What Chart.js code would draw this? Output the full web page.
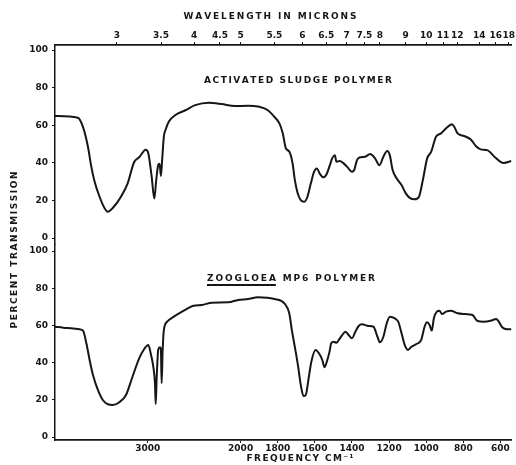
<!DOCTYPE html>
<html>
<head>
<meta charset="utf-8">
<script src="https://cdn.jsdelivr.net/npm/chart.js@4.4.1/dist/chart.umd.min.js"></script>
<style>
  html, body { margin: 0; padding: 0; background: #fff; }
  canvas { display: block; }
</style>
</head>
<body>
<canvas id="chart" width="516" height="465"></canvas>
<script>
// wavenumber (cm-1) and percent transmission
const sludgeFreq = [4000, 3754, 3698, 3645, 3609, 3573, 3520, 3467, 3431, 3378, 3289, 3218, 3147, 3093, 3022, 2994, 2958, 2930, 2909, 2887, 2873, 2859, 2845, 2827, 2809, 2773, 2702, 2596, 2489, 2347, 2205, 2062, 1960, 1907, 1853, 1818, 1791, 1773, 1756, 1738, 1720, 1708, 1693, 1676, 1658, 1640, 1622, 1604, 1590, 1572, 1555, 1537, 1519, 1507, 1492, 1484, 1466, 1448, 1427, 1400, 1388, 1373, 1356, 1329, 1302, 1276, 1252, 1231, 1210, 1196, 1181, 1160, 1133, 1110, 1089, 1062, 1039, 1018, 995, 973, 947, 920, 893, 861, 849, 831, 796, 760, 733, 707, 671, 636, 600, 582, 541];
const sludgeT = [65, 64, 59, 48.6, 38, 30, 22, 16, 14, 16, 22, 29, 40.5, 43, 47, 45, 32.5, 21, 31, 39, 39.5, 33, 42, 54, 57.5, 62, 65.5, 68, 70.7, 72, 71.3, 70.2, 70.4, 70, 68, 64.5, 61, 55.7, 47.7, 46, 39.7, 31, 24, 20.2, 19.3, 22, 29, 35.3, 37, 34, 32.3, 34, 38.8, 42.4, 44, 40.6, 41, 40, 38, 35.3, 36.2, 41.5, 43, 43.3, 44.7, 42.4, 38.8, 43.3, 46.3, 44, 36.2, 31.8, 28.2, 23.8, 21.4, 20.6, 22, 31, 42.4, 46, 54, 55.7, 58.4, 60.6, 59.2, 55.7, 54.3, 52.5, 49, 47.2, 46.8, 43.6, 40.6, 40, 41];

const zoogloeaFreq = [4000, 3911, 3805, 3733, 3698, 3662, 3627, 3591, 3538, 3485, 3431, 3378, 3307, 3235, 3165, 3093, 3040, 2994, 2969, 2941, 2923, 2915, 2904, 2887, 2869, 2859, 2851, 2840, 2827, 2791, 2720, 2631, 2507, 2418, 2311, 2133, 2027, 1960, 1907, 1818, 1764, 1738, 1724, 1708, 1690, 1676, 1661, 1649, 1635, 1619, 1596, 1578, 1560, 1548, 1533, 1521, 1512, 1498, 1484, 1471, 1453, 1436, 1418, 1400, 1382, 1364, 1347, 1311, 1284, 1263, 1249, 1231, 1213, 1196, 1169, 1151, 1133, 1116, 1098, 1080, 1053, 1027, 1009, 996, 982, 970, 959, 943, 929, 915, 893, 867, 831, 787, 751, 724, 689, 653, 623, 609, 591, 564, 541];
const zoogloeaT = [59.3, 58.8, 58.4, 57.9, 57.2, 50.4, 41.4, 33.3, 25.3, 19.9, 17.6, 17.2, 18.7, 22.6, 32.4, 42.3, 47.2, 49.5, 45, 37.8, 28.9, 17.7, 32.4, 47.2, 48.2, 46.8, 28.9, 46.8, 57.5, 62, 64.7, 67.4, 70.6, 71, 72.2, 72.4, 73.7, 74.2, 75.1, 74.2, 71.9, 66.5, 57.5, 48.5, 37.8, 28, 22, 22.6, 30.6, 40.5, 46.8, 45, 41.4, 37.5, 41.4, 45.9, 50.4, 51.2, 50.7, 52.2, 54.8, 56.6, 54.8, 53.1, 56.6, 59.7, 60.6, 59.7, 59.3, 53.9, 50.9, 53.9, 61.1, 64.7, 63.8, 62, 55.8, 49.5, 46.8, 48.5, 50, 52.2, 59.3, 61.7, 60.2, 57.2, 63.8, 67.4, 67.9, 66.1, 67.4, 67.9, 66.5, 66.1, 65.6, 62.4, 62, 62.5, 63.4, 62, 59, 57.9, 57.9];

const freqTicks = [3000, 2000, 1800, 1600, 1400, 1200, 1000, 800, 600];
const micronTicks = ['3', '3.5', '4', '4.5', '5', '5.5', '6', '6.5', '7', '7.5', '8', '9', '10', '11', '12', '14', '16', '18'];
const percentTicks = [0, 20, 40, 60, 80, 100];

const INK = '#161616';
const FONT = '"DejaVu Sans", sans-serif';
const F_HIGH = 4000, F_LOW = 541, F_BREAK = 2000;

// grating chart: above 2000 cm-1 the scale is compressed by half
function chartUnits(f) {
    return f >= F_BREAK ? (F_HIGH - f) / 2 : (F_HIGH - F_BREAK) / 2 + (F_BREAK - f);
}
const SPAN = chartUnits(F_LOW);

class IrScale extends Chart.LinearScale {
    static id = 'irFrequency';
    static defaults = {};
    getPixelForValue(v) {
        return this.getPixelForDecimal(chartUnits(v) / SPAN);
    }
    getValueForPixel(p) {
        const u = this.getDecimalForPixel(p) * SPAN;
        const half = (F_HIGH - F_BREAK) / 2;
        return u <= half ? F_HIGH - 2 * u : F_BREAK - (u - half);
    }
}
Chart.register(IrScale);

function points(xs, ys) {
    return xs.map((x, i) => ({ x: x, y: ys[i] }));
}

function drawSpaced(ctx, text, cx, cy, width) {
    const chars = [...text];
    const widths = chars.map(c => ctx.measureText(c).width);
    const total = widths.reduce((a, b) => a + b, 0);
    const gap = (width - total) / (chars.length - 1);
    let x = cx - width / 2;
    const starts = [];
    chars.forEach((c, i) => {
        starts.push(x);
        ctx.fillText(c, x, cy);
        x += widths[i] + gap;
    });
    return { starts, widths };
}

const labels = {
    id: 'labels',
    afterDraw(chart) {
        const ctx = chart.ctx;
        ctx.save();
        ctx.fillStyle = INK;
        ctx.strokeStyle = INK;
        ctx.font = 'bold 9px ' + FONT;
        ctx.textAlign = 'left';
        ctx.textBaseline = 'middle';

        drawSpaced(ctx, 'WAVELENGTH IN MICRONS', 270, 17, 173);
        drawSpaced(ctx, 'ACTIVATED SLUDGE POLYMER', 298, 81, 188);
        const z = drawSpaced(ctx, 'ZOOGLOEA MP6 POLYMER', 291, 279, 168);
        ctx.lineWidth = 2;
        ctx.beginPath();
        ctx.moveTo(z.starts[0], 285);
        ctx.lineTo(z.starts[7] + z.widths[7], 285);
        ctx.stroke();
        drawSpaced(ctx, 'FREQUENCY CM⁻¹', 300, 459, 107);

        ctx.translate(15, 250);
        ctx.rotate(-Math.PI / 2);
        drawSpaced(ctx, 'PERCENT TRANSMISSION', 0, 0, 157);
        ctx.restore();
    }
};

const tickFont = { family: FONT, size: 9, weight: 'bold' };

function yAxis(min, max, weight, order) {
    return {
        type: 'linear',
        position: 'left',
        stack: 'panels',
        stackWeight: weight,
        weight: order,
        min: min,
        max: max,
        afterBuildTicks: s => { s.ticks = percentTicks.map(v => ({ value: v })); },
        afterFit: s => { s.width = 55; },
        ticks: { color: INK, font: tickFont, padding: 4, autoSkip: false },
        grid: { drawOnChartArea: false, color: INK, tickLength: 3, lineWidth: 1 },
        border: { color: INK, width: 1.5 }
    };
}

new Chart(document.getElementById('chart'), {
    type: 'line',
    data: {
        datasets: [
            {
                label: 'Activated sludge polymer',
                data: points(sludgeFreq, sludgeT),
                yAxisID: 'yTop'
            },
            {
                label: 'Zoogloea MP6 polymer',
                data: points(zoogloeaFreq, zoogloeaT),
                yAxisID: 'yBottom'
            }
        ]
    },
    options: {
        responsive: false,
        animation: false,
        layout: { padding: 0 },
        elements: {
            point: { radius: 0 },
            line: { borderColor: INK, borderWidth: 2, cubicInterpolationMode: 'monotone' }
        },
        plugins: { legend: { display: false }, tooltip: { enabled: false } },
        scales: {
            x: {
                type: 'irFrequency',
                position: 'bottom',
                min: F_LOW,
                max: F_HIGH,
                afterBuildTicks: s => { s.ticks = freqTicks.map(v => ({ value: v })); },
                afterFit: s => { s.height = 25; },
                ticks: { color: INK, font: tickFont, padding: 0, autoSkip: false, maxRotation: 0,
                    callback: v => String(v) },
                grid: { drawOnChartArea: false, color: INK, tickLength: 3 },
                border: { color: INK, width: 1.8 }
            },
            x2: {
                type: 'irFrequency',
                position: 'top',
                min: F_LOW,
                max: F_HIGH,
                afterBuildTicks: s => { s.ticks = micronTicks.map(m => ({ value: 10000 / Number(m) })); },
                afterFit: s => { s.height = 45; },
                ticks: { color: INK, font: tickFont, padding: 1, autoSkip: false, maxRotation: 0,
                    callback: (v, i) => micronTicks[i] },
                grid: { drawOnChartArea: false, color: INK, tickLength: 3 },
                border: { color: INK, width: 1.8 }
            },
            yTop: yAxis(-3.4, 102.7, 199.5, 2),
            yBottom: yAxis(-1.6, 103.5, 195.5, 1)
        }
    },
    plugins: [labels]
});
</script>
</body>
</html>
